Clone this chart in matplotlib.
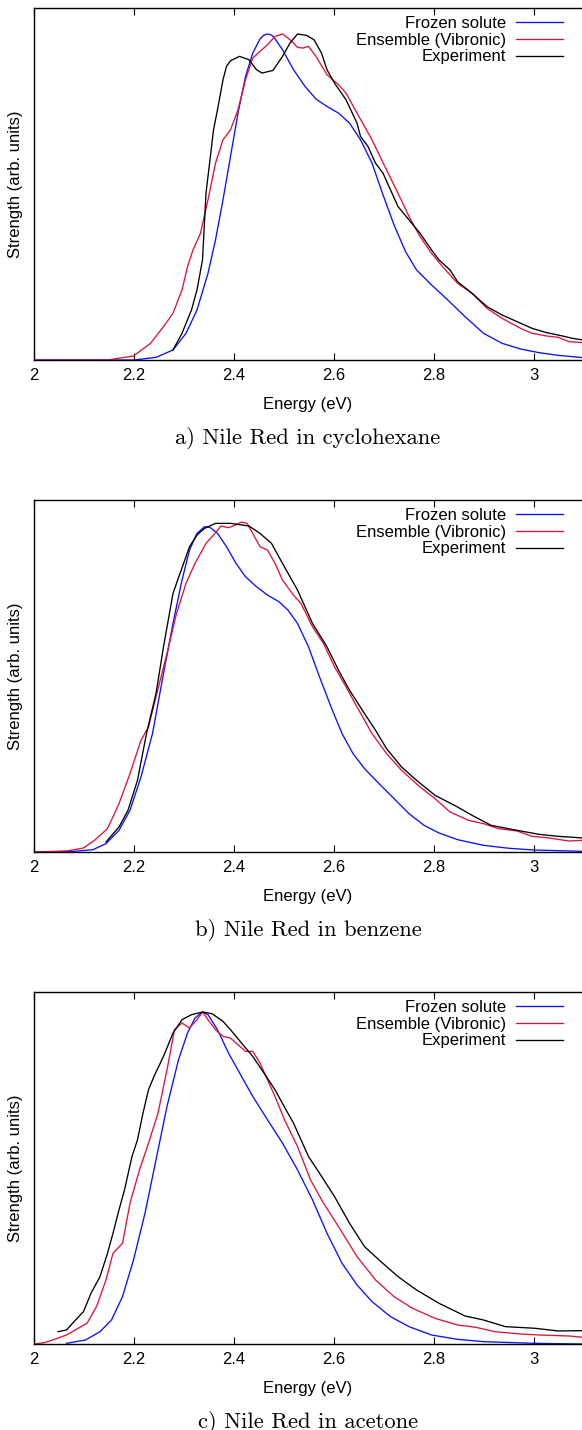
import matplotlib
matplotlib.use("Agg")
import matplotlib.pyplot as plt

# ---------------- data (energy in eV, strength in arb. units) ----------------
# Panel a) Nile Red in cyclohexane
a_frozen_E = [2.00, 2.15, 2.20, 2.244, 2.278, 2.304, 2.326, 2.348, 2.363, 2.378, 2.393, 2.408,
              2.423, 2.4375, 2.452, 2.460, 2.467, 2.475, 2.482, 2.497, 2.519, 2.542, 2.564,
              2.586, 2.609, 2.631, 2.653, 2.676, 2.698, 2.720, 2.743, 2.765, 2.795, 2.824,
              2.862, 2.899, 2.936, 2.973, 3.010, 3.048, 3.098]
a_frozen_S = [0.0, 0.0, 0.0, 0.008, 0.030, 0.080, 0.150, 0.260, 0.360, 0.480, 0.610, 0.740,
              0.850, 0.920, 0.962, 0.974, 0.977, 0.974, 0.963, 0.930, 0.870, 0.820, 0.782,
              0.760, 0.740, 0.710, 0.660, 0.590, 0.495, 0.405, 0.325, 0.270, 0.225, 0.185,
              0.130, 0.080, 0.050, 0.033, 0.022, 0.014, 0.007]

a_ens_E = [2.00, 2.149, 2.155, 2.199, 2.233, 2.259, 2.278, 2.296, 2.307, 2.318, 2.333, 2.348,
           2.363, 2.378, 2.393, 2.408, 2.423, 2.4375, 2.452, 2.467, 2.482, 2.497, 2.512, 2.527,
           2.538, 2.549, 2.564, 2.586, 2.609, 2.624, 2.646, 2.676, 2.705, 2.728, 2.750, 2.772,
           2.795, 2.817, 2.847, 2.876, 2.906, 2.936, 2.973, 2.996, 3.025, 3.048, 3.070, 3.098]
a_ens_S = [0.0, 0.0, 0.002, 0.012, 0.050, 0.100, 0.140, 0.210, 0.280, 0.330, 0.380, 0.480,
           0.590, 0.660, 0.690, 0.750, 0.840, 0.905, 0.925, 0.945, 0.970, 0.977, 0.960, 0.937,
           0.935, 0.940, 0.910, 0.855, 0.825, 0.800, 0.740, 0.660, 0.570, 0.500, 0.430, 0.370,
           0.320, 0.280, 0.230, 0.200, 0.155, 0.125, 0.095, 0.080, 0.072, 0.068, 0.055, 0.052]

a_exp_E = [2.278, 2.296, 2.315, 2.326, 2.337, 2.344, 2.352, 2.359, 2.367, 2.378, 2.385, 2.393,
           2.411, 2.430, 2.445, 2.456, 2.478, 2.497, 2.512, 2.527, 2.545, 2.560, 2.575, 2.586,
           2.601, 2.624, 2.646, 2.653, 2.668, 2.683, 2.698, 2.713, 2.728, 2.750, 2.772, 2.795,
           2.810, 2.832, 2.847, 2.876, 2.906, 2.936, 2.966, 2.996, 3.025, 3.048, 3.077, 3.098]
a_exp_S = [0.030, 0.080, 0.150, 0.210, 0.300, 0.500, 0.600, 0.690, 0.750, 0.840, 0.880, 0.897,
           0.910, 0.900, 0.870, 0.860, 0.868, 0.910, 0.950, 0.977, 0.973, 0.960, 0.920, 0.870,
           0.830, 0.780, 0.710, 0.670, 0.640, 0.590, 0.560, 0.510, 0.460, 0.420, 0.380, 0.330,
           0.300, 0.270, 0.235, 0.200, 0.160, 0.135, 0.115, 0.095, 0.082, 0.075, 0.065, 0.060]

# Panel b) Nile Red in benzene
b_frozen_E = [2.00, 2.080, 2.118, 2.144, 2.170, 2.192, 2.214, 2.237, 2.259, 2.278, 2.296, 2.311,
              2.326, 2.341, 2.352, 2.367, 2.385, 2.404, 2.423, 2.445, 2.467, 2.490, 2.508,
              2.527, 2.549, 2.571, 2.594, 2.616, 2.638, 2.661, 2.690, 2.720, 2.750, 2.780,
              2.810, 2.847, 2.899, 2.951, 3.000, 3.098]
b_frozen_S = [0.0, 0.002, 0.007, 0.025, 0.065, 0.125, 0.225, 0.355, 0.535, 0.685, 0.815, 0.905,
              0.955, 0.975, 0.973, 0.955, 0.915, 0.865, 0.825, 0.795, 0.770, 0.750, 0.725,
              0.685, 0.615, 0.525, 0.435, 0.355, 0.295, 0.250, 0.205, 0.160, 0.115, 0.080,
              0.057, 0.037, 0.020, 0.011, 0.006, 0.002]

b_ens_E = [2.00, 2.065, 2.099, 2.121, 2.147, 2.170, 2.192, 2.214, 2.229, 2.244, 2.266, 2.285,
           2.304, 2.322, 2.344, 2.359, 2.374, 2.389, 2.400, 2.415, 2.426, 2.4375, 2.452, 2.467,
           2.482, 2.497, 2.519, 2.534, 2.557, 2.579, 2.601, 2.624, 2.646, 2.676, 2.705, 2.735,
           2.772, 2.802, 2.832, 2.869, 2.899, 2.929, 2.966, 2.996, 3.025, 3.070, 3.098]
b_ens_S = [0.0, 0.003, 0.012, 0.035, 0.070, 0.145, 0.235, 0.335, 0.375, 0.465, 0.595, 0.715,
           0.805, 0.865, 0.925, 0.950, 0.977, 0.972, 0.978, 0.989, 0.985, 0.955, 0.915, 0.905,
           0.865, 0.815, 0.770, 0.745, 0.675, 0.625, 0.555, 0.495, 0.435, 0.355, 0.295, 0.245,
           0.195, 0.160, 0.120, 0.095, 0.085, 0.070, 0.063, 0.047, 0.043, 0.033, 0.035]

b_exp_E = [2.144, 2.170, 2.188, 2.207, 2.225, 2.244, 2.259, 2.278, 2.292, 2.304, 2.311, 2.326,
           2.341, 2.363, 2.393, 2.430, 2.452, 2.475, 2.497, 2.527, 2.557, 2.586, 2.609, 2.631,
           2.661, 2.683, 2.705, 2.735, 2.765, 2.802, 2.847, 2.876, 2.914, 2.966, 3.010, 3.048,
           3.098]
b_exp_S = [0.030, 0.075, 0.125, 0.215, 0.355, 0.475, 0.615, 0.775, 0.835, 0.885, 0.915, 0.950,
           0.970, 0.985, 0.985, 0.977, 0.955, 0.925, 0.865, 0.785, 0.685, 0.615, 0.545, 0.485,
           0.415, 0.365, 0.310, 0.255, 0.215, 0.170, 0.135, 0.110, 0.080, 0.065, 0.053, 0.047,
           0.042]

# Panel c) Nile Red in acetone
c_frozen_E = [2.065, 2.103, 2.132, 2.155, 2.177, 2.199, 2.222, 2.244, 2.266, 2.289, 2.307,
              2.322, 2.337, 2.348, 2.367, 2.389, 2.415, 2.4375, 2.467, 2.497, 2.527, 2.557,
              2.586, 2.616, 2.646, 2.676, 2.713, 2.750, 2.795, 2.847, 2.899, 3.000, 3.098]
c_frozen_S = [0.002, 0.012, 0.037, 0.072, 0.142, 0.252, 0.392, 0.552, 0.712, 0.852, 0.932,
              0.977, 0.995, 0.987, 0.942, 0.872, 0.802, 0.742, 0.672, 0.602, 0.522, 0.432,
              0.332, 0.242, 0.177, 0.127, 0.082, 0.052, 0.027, 0.014, 0.007, 0.002, 0.0]

c_ens_E = [2.00, 2.021, 2.043, 2.065, 2.088, 2.106, 2.125, 2.144, 2.158, 2.177, 2.192, 2.211,
           2.229, 2.248, 2.266, 2.281, 2.296, 2.311, 2.326, 2.337, 2.348, 2.363, 2.378, 2.393,
           2.408, 2.423, 2.4375, 2.452, 2.467, 2.482, 2.501, 2.527, 2.553, 2.579, 2.609, 2.646,
           2.683, 2.720, 2.757, 2.802, 2.847, 2.884, 2.921, 2.973, 3.010, 3.070, 3.098]
c_ens_S = [0.0, 0.004, 0.015, 0.027, 0.047, 0.062, 0.112, 0.192, 0.272, 0.302, 0.422, 0.522,
           0.602, 0.692, 0.822, 0.942, 0.962, 0.947, 0.972, 0.995, 0.972, 0.942, 0.922, 0.917,
           0.897, 0.877, 0.877, 0.842, 0.792, 0.742, 0.672, 0.592, 0.492, 0.422, 0.352, 0.262,
           0.192, 0.142, 0.107, 0.077, 0.057, 0.050, 0.037, 0.030, 0.027, 0.024, 0.020]

c_exp_E = [2.048, 2.065, 2.080, 2.099, 2.114, 2.132, 2.147, 2.158, 2.170, 2.181, 2.196, 2.207,
           2.218, 2.229, 2.240, 2.259, 2.278, 2.296, 2.315, 2.337, 2.356, 2.378, 2.393, 2.415,
           2.4375, 2.460, 2.482, 2.504, 2.519, 2.534, 2.549, 2.571, 2.601, 2.631, 2.661, 2.690,
           2.728, 2.765, 2.810, 2.862, 2.899, 2.943, 3.003, 3.048, 3.098]
c_exp_S = [0.037, 0.042, 0.067, 0.097, 0.152, 0.202, 0.272, 0.332, 0.402, 0.462, 0.562, 0.612,
           0.692, 0.762, 0.802, 0.862, 0.932, 0.972, 0.987, 0.995, 0.990, 0.967, 0.942, 0.902,
           0.862, 0.812, 0.762, 0.702, 0.662, 0.612, 0.562, 0.512, 0.442, 0.362, 0.292, 0.252,
           0.202, 0.162, 0.122, 0.084, 0.072, 0.052, 0.047, 0.039, 0.040]

x_ticks = [2.0, 2.2, 2.4, 2.6, 2.8, 3.0]
x_ticklabels = ["2", "2.2", "2.4", "2.6", "2.8", "3"]
series_labels = ["Frozen solute", "Ensemble (Vibronic)", "Experiment"]
captions = ["a) Nile Red in cyclohexane", "b) Nile Red in benzene", "c) Nile Red in acetone"]

panels = [
    ((a_frozen_E, a_frozen_S), (a_ens_E, a_ens_S), (a_exp_E, a_exp_S)),
    ((b_frozen_E, b_frozen_S), (b_ens_E, b_ens_S), (b_exp_E, b_exp_S)),
    ((c_frozen_E, c_frozen_S), (c_ens_E, c_ens_S), (c_exp_E, c_exp_S)),
]

# ---------------- styling / layout ----------------
W, H = 582, 1430
DPI = 100
colors = ["#0a10ff", "#dc143c", "#000000"]
sans = ["Liberation Sans", "DejaVu Sans"]
plt.rcParams["font.family"] = sans

fig = plt.figure(figsize=(W / DPI, H / DPI), dpi=DPI)

left_px = 34
axes_w_px = 550
axes_h_px = 352
tops_px = [8, 500, 992]
xlabel_px = [404, 896, 1388]
caption_px = [437.5, 929.5, 1421.5]

for i, (series, top) in enumerate(zip(panels, tops_px)):
    ax = fig.add_axes([left_px / W, 1 - (top + axes_h_px) / H, axes_w_px / W, axes_h_px / H])
    for (E, S), col, lab in zip(series, colors, series_labels):
        ax.plot(E, S, color=col, lw=0.95, label=lab)
    ax.set_xlim(2.0, 3.1)
    ax.set_ylim(0, 1.055)
    ax.set_xticks(x_ticks)
    ax.set_xticklabels(x_ticklabels)
    ax.set_yticks([])
    ax.tick_params(axis="x", direction="in", top=True, bottom=True, length=5, width=0.8,
                   labelsize=12, pad=6, colors="black")
    for s in ["left", "top", "bottom"]:
        ax.spines[s].set_linewidth(1.0)
        ax.spines[s].set_color("black")
    ax.spines["right"].set_visible(False)
    ax.legend(loc="upper right", bbox_to_anchor=((562.7 - left_px) / axes_w_px, 1 - 8.2 / axes_h_px),
              frameon=False, markerfirst=False, fontsize=12, borderpad=0, borderaxespad=0,
              handlelength=2.8, handletextpad=0.62, labelspacing=0.095)
    cy = top + axes_h_px / 2
    fig.text(16 / W, 1 - cy / H, "Strength (arb. units)", rotation=90, ha="center", va="center",
             fontsize=12)
    fig.text((left_px + 274) / W, 1 - xlabel_px[i] / H, "Energy (eV)", ha="center", va="center",
             fontsize=12)
    fig.text((left_px + 274) / W, 1 - caption_px[i] / H, captions[i], ha="center", va="center",
             fontsize=16.3, family="cmr10")

fig.savefig("out.png", dpi=DPI)
